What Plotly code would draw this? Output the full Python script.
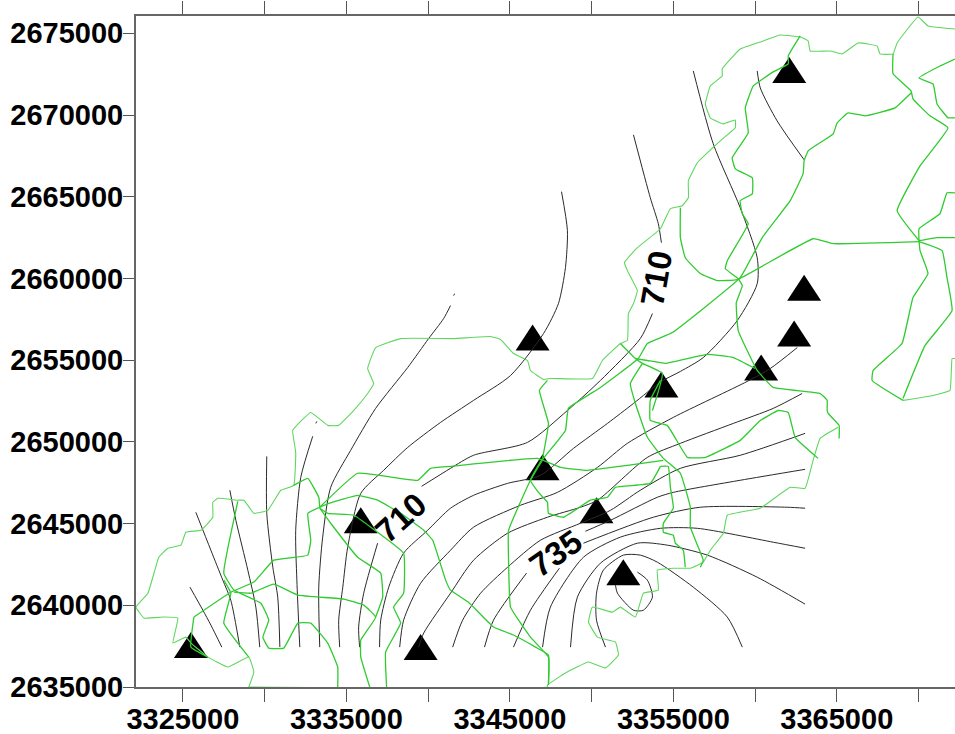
import plotly.graph_objects as go

# Map origin (metres); every list below is kilometres east / north of it
E0 = 3325000
N0 = 2635000

x_ticks = [3325000, 3330000, 3335000, 3340000, 3345000, 3350000, 3355000, 3360000, 3365000, 3370000]
x_tick_text = ["3325000", "", "3335000", "", "3345000", "", "3355000", "", "3365000", ""]
y_ticks = [2635000, 2640000, 2645000, 2650000, 2655000, 2660000, 2665000, 2670000, 2675000]

station_e = [0.49, 10.88, 14.54, 21.39, 22.00, 25.30, 26.94, 29.27, 35.37, 37.39, 38.00, 37.09]
station_n = [2.26, 9.90, 2.14, 21.08, 13.14, 10.51, 6.72, 18.21, 19.25, 21.32, 24.13, 37.45]

# Contours
c01_e = [0.43, 1.22, 1.71, 2.38]
c01_n = [6.11, 4.70, 3.79, 2.44]
c02_e = [0.79, 1.71, 2.44, 2.93, 3.48]
c02_n = [10.69, 8.37, 6.54, 5.31, 2.44]
c03_e = [2.87, 3.24, 3.97, 4.46, 4.70]
c03_n = [12.04, 10.20, 7.15, 4.89, 2.44]
c04_e = [5.13, 5.13, 5.50, 5.80, 5.93]
c04_n = [14.11, 10.63, 7.33, 5.50, 2.44]
c05_e = [8.13, 8.19, None, 7.94, 7.21, 6.90, 6.97, 7.15]
c05_n = [16.13, 16.25, None, 15.34, 12.83, 9.59, 6.54, 2.44]
c06_e = [16.62, 16.56, None, 16.37, 15.95, 15.03, 13.75, 11.79, 10.26, 9.04, 8.55, 8.31, 8.37]
c06_n = [24.07, 23.95, None, 23.34, 22.55, 21.32, 19.55, 17.05, 14.48, 12.22, 9.17, 6.11, 2.44]
c07_e = [23.16, 23.52, 23.40, 22.97, 22.06, 20.04, 17.78, 15.76, 13.75, 12.28, 10.88, 10.08, 9.78, 9.53, 9.59]
c07_n = [30.31, 27.92, 25.66, 23.46, 21.63, 19.06, 17.54, 16.19, 14.66, 13.26, 11.85, 8.55, 6.11, 4.09, 2.44]
c08_e = [10.81, 10.75, 11.06, 11.91, None, 14.60, 16.37, 17.78, 21.08, 23.52, 25.54, 27.98, 28.72, None, 29.27, 29.08, 28.59, 27.56]
c08_n = [2.44, 3.67, 5.74, 8.80, None, 12.28, 13.38, 14.18, 14.97, 16.92, 18.76, 21.32, 22.85, None, 27.19, 28.35, 29.94, 33.79]
c09_e = [12.03, 12.10, 12.59, 13.50, 14.97, 16.37, 17.78, 19.86, 21.87, 23.89, 25.97, 27.56, 29.27, 30.43, 31.83, 33.91, 35.13, 35.13, 34.09, 32.44, 31.22]
c09_n = [2.44, 4.09, 6.11, 8.19, 9.59, 10.94, 11.73, 12.46, 12.95, 14.60, 16.13, 17.35, 18.70, 19.31, 20.16, 22.42, 24.68, 26.27, 29.33, 33.24, 37.70]
c10_e = [13.26, 13.50, 14.54, 16.37, 17.78, 20.65, 22.91, 25.36, 27.19, 30.00, 34.52, 35.93, 37.58]
c10_n = [2.44, 4.09, 6.35, 8.37, 9.78, 11.12, 11.91, 13.44, 14.91, 16.50, 18.70, 19.49, 20.77]
c11_e = [14.42, 14.73, 16.37, 17.78, 19.86, 22.30, 24.32, 25.36, 28.41, 30.43, 33.67, 36.11, 37.88]
c11_n = [2.44, 3.30, 5.74, 7.76, 9.41, 10.39, 11.00, 11.43, 14.05, 14.91, 16.13, 17.05, 17.96]
c12_e = [16.50, 17.11, 18.21, 19.86, 21.87, 24.32, 26.15, 27.98, 30.43, 34.09, 38.06]
c12_n = [2.44, 4.09, 5.74, 7.33, 8.98, 10.02, 10.81, 12.04, 13.38, 14.18, 15.52]
c13_e = [18.45, 19.00, 21.02, None, 24.62, 26.15, 29.02, 30.00, 34.09, 38.06]
c13_n = [2.44, 4.09, 6.97, None, 9.53, 10.20, 11.61, 11.91, 12.65, 13.32]
c14_e = [20.22, 21.26, 23.03, None, 24.50, 28.78, 31.65, 36.97, 38.06]
c14_n = [2.44, 4.70, 7.27, None, 8.80, 10.39, 11.00, 11.00, 10.94]
c15_e = [22.00, 22.48, 24.50, 26.76, 29.21, 31.47, 36.11, 38.06]
c15_n = [2.44, 4.89, 7.94, 9.17, 9.71, 9.71, 8.86, 8.49]
c16_e = [23.71, 24.13, 25.54, 27.80, 29.63, 32.08, 35.13, 38.06]
c16_n = [2.44, 5.50, 7.58, 8.80, 8.68, 8.07, 6.72, 5.07]
c17_e = [25.85, 25.30, 25.30, 25.72, 26.94, 27.98, 29.02, 31.22, 33.30, 34.22]
c17_n = [2.44, 4.09, 5.74, 7.15, 8.07, 8.07, 7.64, 6.11, 4.28, 2.44]
c18_e = [26.46, 26.58, 27.56, 28.17, 28.72, 28.41, 27.80]
c18_n = [6.23, 5.74, 4.70, 4.70, 5.50, 6.54, 7.03]
c19_e = [35.13, 35.32, 36.35, 38.00]
c19_n = [37.70, 36.66, 34.64, 32.26]

contours = [(c01_e, c01_n), (c02_e, c02_n), (c03_e, c03_n), (c04_e, c04_n), (c05_e, c05_n),
            (c06_e, c06_n), (c07_e, c07_n), (c08_e, c08_n), (c09_e, c09_n), (c10_e, c10_n),
            (c11_e, c11_n), (c12_e, c12_n), (c13_e, c13_n), (c14_e, c14_n), (c15_e, c15_n),
            (c16_e, c16_n), (c17_e, c17_n), (c18_e, c18_n), (c19_e, c19_n)]

# Outer boundary (paler green)
b1_e = [4.03, 4.34, 4.03, 2.75, 1.53, 0.49, 0.18, -0.61, -0.31, -1.16, -2.38, -2.87, -2.14, -1.47, -0.92, -0.12, 0.18, 1.10, 1.83, 1.83, 2.14, 3.36, 3.73, 4.34, 5.19, 5.99, 6.78, 6.90, 6.72, 7.82, 8.86, 9.53, 10.51, 11.30, 11.67, 11.30, 11.79, 13.32, 16.56, 18.82, 19.43, 20.22, 21.08, 21.26, 22.06, 22.48, 25.05, 25.66, 26.76, 27.19, 27.25, 27.56, 27.80, 27.19, 27.01, 27.80, 29.21, 29.82, 30.55, 30.92, 30.92, 31.47, 32.87, 33.79, 33.79, 33.06, 32.26, 31.96, 32.26, 32.99, 32.99, 34.09, 35.50, 36.54, 37.76, 38.25, 38.37, 39.59, 40.33, 41.30, 42.46, 42.65, 43.44, 43.69, 44.97, 45.58, 46.50, 47.23]
b1_n = [0, 0.92, 1.83, 1.22, 1.83, 2.69, 3.05, 2.69, 4.22, 4.28, 4.22, 4.89, 5.74, 7.94, 8.49, 8.68, 9.47, 9.59, 10.39, 11.30, 11.55, 11.43, 11.43, 10.63, 10.81, 12.04, 12.34, 14.36, 15.70, 16.80, 16.01, 16.01, 16.99, 17.96, 18.57, 19.49, 20.77, 21.32, 21.32, 21.45, 21.26, 20.41, 19.98, 19.37, 18.82, 18.88, 18.88, 19.98, 21.02, 21.20, 22.85, 23.46, 24.26, 25.48, 25.97, 26.88, 28.04, 29.27, 29.45, 29.94, 30.98, 32.08, 33.42, 34.22, 34.70, 34.46, 34.83, 35.68, 36.78, 37.39, 37.82, 39.04, 39.53, 39.90, 39.78, 39.53, 38.92, 38.92, 38.74, 39.41, 39.23, 38.74, 38.74, 39.41, 41.00, 40.45, 40.33, 40.26]
b2_e = [4.03, 22.30, 22.30, 23.40, 24.81, 25.85, 26.64, 26.46, 25.36, 24.81, 25.05, 26.27, 26.76, 27.68, 28.17, 29.08, 29.02, 30.00, 31.04, 31.83, 32.26, 33.06, 33.30, 35.32, 37.15, 38.06, 38.55, 38.98, 40.08]
b2_n = [0, 0, 0.12, 0.86, 1.53, 1.16, 1.96, 2.75, 3.05, 3.97, 4.89, 4.58, 4.89, 4.28, 5.74, 5.93, 7.15, 7.27, 7.27, 7.64, 8.37, 9.41, 10.51, 10.94, 12.22, 12.16, 13.87, 15.21, 15.89]
r02_e = [44.05, 45.89, 46.92, 47.05, 47.23]
r02_n = [17.54, 17.84, 18.15, 20.10, 20.10]

pale = [(b1_e, b1_n), (b2_e, b2_n), (r02_e, r02_n)]

# Roads and rivers (brighter green)
r01_e = [44.05, 42.16, 42.22, 43.99, 44.66, 45.58, 45.09, 45.03]
r01_n = [17.54, 18.76, 19.37, 21.02, 23.83, 25.30, 26.70, 27.31]
r03_e = [44.05, 45.40, 47.05, 46.74, 46.44, 45.03]
r03_n = [17.66, 20.90, 23.03, 25.05, 26.70, 27.25]
r04_e = [45.03, 43.69, 45.09, 46.80, 45.70, 44.66, 44.54, 43.44, 43.44]
r04_n = [27.31, 29.14, 31.89, 34.22, 34.95, 35.99, 36.48, 37.52, 38.74]
r05_e = [45.03, 45.03, 46.31, 46.74, 47.23]
r05_n = [27.31, 28.04, 28.96, 30.24, 30.24]
r06_e = [45.03, 46.13, 47.23]
r06_n = [27.31, 27.50, 27.50]
r07_e = [47.23, 46.31, 45.03, 45.89, 46.13, 46.80, 47.23]
r07_n = [38.43, 38.00, 37.27, 36.90, 35.68, 34.83, 34.83]
r08_e = [44.54, 43.56, 41.73, 40.69, 40.02, 39.78, 38.25, 38.00, 37.94, 37.15, 35.44, 34.09, 29.94, 28.41, 27.86, 25.54, 23.58, 23.40, 22.06, 21.26, 19.92, 19.92, 20.04, 21.26, 22.36, 22.36]
r08_n = [36.35, 35.44, 34.95, 35.13, 34.52, 33.85, 32.81, 32.20, 31.41, 29.76, 27.50, 25.05, 21.69, 21.02, 20.10, 18.33, 17.05, 15.70, 13.99, 12.65, 9.59, 7.76, 4.89, 3.05, 1.83, 0.24]
r09_e = [30.43, 30.43, 30.73, 31.65, 32.69, 33.91, 38.55, 39.78, 45.09]
r09_n = [29.33, 27.50, 26.27, 25.30, 24.87, 24.93, 27.43, 27.13, 27.25]
r10_e = [37.76, 37.03, 37.03, 36.11, 34.89, 34.40, 34.58, 33.60, 33.79, 34.83, 34.83, 34.09, 34.22, 34.58, 33.30, 33.18, 33.97, 34.22, 33.85, 33.97, 35.13, 36.11, 38.98, 39.41, 39.41, 39.47, 40.14, 40.14]
r10_n = [39.84, 38.62, 38.13, 37.64, 36.78, 35.44, 33.91, 32.38, 31.71, 31.16, 30.18, 29.76, 28.96, 28.35, 26.09, 25.60, 24.99, 24.56, 23.52, 21.81, 19.37, 18.33, 17.96, 17.54, 16.92, 16.74, 16.01, 15.21]
r11_e = [27.68, 28.41, 29.51, 32.08, 33.67, 35.01]
r11_n = [20.10, 19.98, 19.80, 20.35, 20.16, 19.49]
r12_e = [26.76, 27.68, 28.11, 29.33, 28.72]
r12_n = [21.02, 20.10, 19.80, 19.19, 16.92]
r13_e = [28.11, 27.37, 27.68, 28.41, 29.39, 30.43, 31.04, 31.04, 31.83, 31.65]
r13_n = [19.80, 18.57, 17.35, 15.28, 13.99, 13.08, 11.00, 9.78, 7.76, 7.33]
r14_e = [29.21, 28.59, 28.59, 29.63, 30.86, 31.96, 34.09, 35.32, 36.42, 37.03, 37.45, 38.86]
r14_n = [18.76, 17.54, 16.31, 16.01, 14.05, 14.05, 15.09, 16.31, 16.92, 16.80, 15.28, 13.99]
r15_e = [29.21, 29.69, 29.82, 30.00, 29.39, 29.39, 30.00, 30.12, 30.61, 30.73]
r15_n = [13.50, 13.50, 12.22, 10.94, 10.02, 9.47, 9.29, 8.80, 8.37, 7.33]
r16_e = [8.37, 10.69, 14.36, 15.15, 16.37, 21.69, 23.10, 24.75, 27.19, 29.39]
r16_n = [11.00, 13.08, 12.65, 13.38, 13.50, 13.99, 13.44, 13.26, 13.56, 13.87]
r17_e = [22.00, 21.26, 21.75, 22.30, 22.36, 23.28, 24.93, 25.97, 26.46, 28.59, 29.21]
r17_n = [13.99, 12.65, 11.91, 11.30, 10.63, 10.39, 11.43, 11.61, 12.22, 12.46, 13.50]
r18_e = [22.00, 22.36, 21.81, 22.30]
r18_n = [13.99, 16.13, 18.15, 18.76]
r19_e = [8.37, 8.92, 10.69, 11.91, 13.50, 14.73, 15.28, 16.07, 16.37, 17.47, 19.00, 20.22, 21.57, 22.36, 22.36]
r19_n = [11.00, 11.24, 11.73, 11.43, 10.51, 9.59, 8.98, 6.54, 5.93, 5.19, 3.67, 3.18, 2.44, 1.96, 0.12]
r20_e = [0.67, 2.93, 4.34, 5.56, 7.64, 7.82, 7.64, 8.37]
r20_n = [4.28, 5.80, 6.42, 7.76, 8.07, 8.98, 10.63, 11.00]
r21_e = [0.67, 0.49, 1.53]
r21_n = [4.28, 2.44, 1.83]
r22_e = [3.36, 2.50, 3.12, 4.77, 5.25, 4.89, 5.25, 6.17, 7.03, 7.82, 8.86, 9.47, 9.47]
r22_n = [11.36, 6.97, 5.93, 5.13, 4.09, 3.05, 2.38, 2.38, 3.91, 3.91, 2.69, 1.22, 0]
r23_e = [2.50, 2.93, 2.50, 4.03]
r23_n = [6.54, 5.74, 3.91, 1.83]
r24_e = [3.12, 4.15, 5.56, 7.03, 9.84, 11.06, 11.79, 10.88, 10.88, 11.43]
r24_n = [5.80, 5.74, 6.29, 5.62, 5.38, 5.01, 4.28, 2.87, 1.83, 0]
r25_e = [6.78, 7.64, 8.31, 8.37]
r25_n = [12.34, 12.77, 11.61, 11.00]
r26_e = [8.37, 8.86, 10.45, 11.49, 13.50, 13.50, 12.89, 13.32, 12.40, 12.46]
r26_n = [10.94, 10.63, 10.51, 9.78, 8.19, 5.74, 4.89, 3.91, 2.14, 0]
r27_e = [8.37, 9.04, 10.69, 12.10, 12.22, 11.79]
r27_n = [10.94, 10.02, 7.94, 6.97, 5.50, 4.28]

roads = [(r01_e, r01_n), (r03_e, r03_n), (r04_e, r04_n), (r05_e, r05_n), (r06_e, r06_n), (r07_e, r07_n),
         (r08_e, r08_n), (r09_e, r09_n), (r10_e, r10_n), (r11_e, r11_n), (r12_e, r12_n), (r13_e, r13_n),
         (r14_e, r14_n), (r15_e, r15_n), (r16_e, r16_n), (r17_e, r17_n), (r18_e, r18_n), (r19_e, r19_n),
         (r20_e, r20_n), (r21_e, r21_n), (r22_e, r22_n), (r23_e, r23_n), (r24_e, r24_n), (r25_e, r25_n),
         (r26_e, r26_n), (r27_e, r27_n)]

label_text = ["710", "710", "735"]
label_e = [13.32, 28.96, 22.79]
label_n = [10.39, 24.99, 8.19]
label_angle = [-42, -80, -35]


def east(values):
    return [None if v is None else E0 + v * 1000 for v in values]


def north(values):
    return [None if v is None else N0 + v * 1000 for v in values]


fig = go.Figure()

# Station markers go first so the map lines run over them, as in the reference
fig.add_trace(go.Scatter(x=east(station_e), y=north(station_n), mode="markers", showlegend=False,
                         marker=dict(symbol="triangle-up", size=26, color="black",
                                     line=dict(color="black", width=0)), hoverinfo="skip"))

for e, n in contours:
    fig.add_trace(go.Scatter(x=east(e), y=north(n), mode="lines", showlegend=False, cliponaxis=False,
                             line=dict(color="#2a2a2a", width=1, shape="spline", smoothing=0.7), hoverinfo="skip"))
for e, n in pale:
    fig.add_trace(go.Scatter(x=east(e), y=north(n), mode="lines", showlegend=False, cliponaxis=False,
                             line=dict(color="#5fd75f", width=1.1, shape="spline", smoothing=0.3), hoverinfo="skip"))
for e, n in roads:
    fig.add_trace(go.Scatter(x=east(e), y=north(n), mode="lines", showlegend=False, cliponaxis=False,
                             line=dict(color="#2fcb2f", width=1.3, shape="spline", smoothing=0.3), hoverinfo="skip"))

# Taller triangle outline anchored on each station (marker glyphs have a fixed aspect)
shapes = [dict(type="path", xref="x", yref="y", layer="below",
               xsizemode="pixel", ysizemode="pixel",
               xanchor=E0 + e * 1000, yanchor=N0 + n * 1000,
               path="M -17 -8 L 17 -8 L 0 18 Z", fillcolor="black", line=dict(width=0))
          for e, n in zip(station_e, station_n)]

annotations = [dict(x=E0 + e * 1000, y=N0 + n * 1000, text=t, textangle=a, showarrow=False,
                    font=dict(family="Liberation Sans", size=33, color="black", weight="bold"))
               for t, e, n, a in zip(label_text, label_e, label_n, label_angle)]

axis_font = dict(family="Liberation Sans", size=29, color="black", weight="bold")

fig.update_layout(
    width=955, height=734,
    margin=dict(l=136, r=0, t=16, b=47),
    paper_bgcolor="white", plot_bgcolor="white",
    annotations=annotations, shapes=shapes,
    xaxis=dict(range=[3322130, 3372230], tickmode="array", tickvals=x_ticks, ticktext=x_tick_text,
               ticks="outside", ticklen=13, tickwidth=1, tickcolor="#555", linecolor="#666", linewidth=2,
               mirror="ticks", showgrid=False, zeroline=False, tickfont=axis_font,
               automargin=False, ticklabelstandoff=-8, layer="below traces"),
    yaxis=dict(range=[2635000, 2676060], tickmode="array", tickvals=y_ticks, ticktext=[str(v) for v in y_ticks],
               ticks="outside", ticklen=11, tickwidth=1, tickcolor="#555", linecolor="#666", linewidth=2,
               showgrid=False, zeroline=False, tickfont=axis_font,
               automargin=False, ticklabelstandoff=-6, layer="below traces"),
)

fig.write_html("out.html", config={"displayModeBar": False},
               post_script="document.body.style.margin='0';document.body.style.overflow='hidden';")
